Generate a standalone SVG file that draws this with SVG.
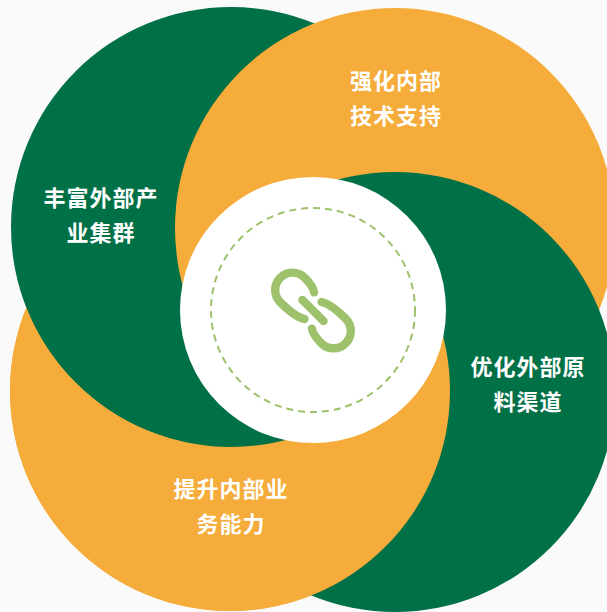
<svg xmlns="http://www.w3.org/2000/svg" width="607" height="612" viewBox="0 0 607 612">
<style>
.g{fill:#007047}
.o{fill:#F5AC3B}
.t{font-family:"Noto Sans CJK SC","Noto Sans",sans-serif;font-size:22px;font-weight:bold;fill:#ffffff;text-anchor:middle;letter-spacing:1px}
.ln{fill:none;stroke:#9DC26B;stroke-width:8.3;stroke-linecap:round;stroke-linejoin:round}
</style>
<defs>
<clipPath id="outTL"><path clip-rule="evenodd" d="M0 0H607V612H0Z M11 227A220 220 0 1 0 451 227A220 220 0 1 0 11 227Z"/></clipPath>
</defs>
<rect width="607" height="612" fill="#FAFAFA"/>
<g id="node-bl-base"><circle class="o" cx="230" cy="391" r="220"/></g>
<g id="node-tl"><circle class="g" cx="231" cy="227" r="220"/></g>
<g id="node-tr"><circle class="o" cx="395" cy="228" r="220"/></g>
<g id="node-br"><circle class="g" cx="395" cy="392" r="220"/></g>
<g id="node-bl"><circle class="o" cx="230" cy="391" r="220" clip-path="url(#outTL)"/></g>
<g id="node-center">
<circle cx="313" cy="310" r="133" fill="#FFFFFF"/>
<circle cx="313" cy="310" r="102" fill="none" stroke="#9DC26B" stroke-width="2" stroke-dasharray="7 5"/>
<g transform="translate(313,310.5) rotate(45)">
<path class="ln" d="M-12 -13.5C-16 -16.5 -22 -17.3 -29 -17.3A17.3 17.3 0 0 0 -29 17.3C-18 17.3 -6 16 0 12"/>
<path class="ln" d="M12 13.5C16 16.5 22 17.3 29 17.3A17.3 17.3 0 0 0 29 -17.3C18 -17.3 6 -16 0 -12"/>
<path class="ln" d="M-15 0L15 0"/>
</g>
</g>
<g id="labels">
<text class="t" x="101" y="206">丰富外部产</text>
<text class="t" x="101" y="241">业集群</text>
<text class="t" x="396" y="89">强化内部</text>
<text class="t" x="396" y="124">技术支持</text>
<text class="t" x="528" y="375">优化外部原</text>
<text class="t" x="528" y="410">料渠道</text>
<text class="t" x="231" y="497">提升内部业</text>
<text class="t" x="231" y="532">务能力</text>
</g>
<g id="connectors"></g>
</svg>
